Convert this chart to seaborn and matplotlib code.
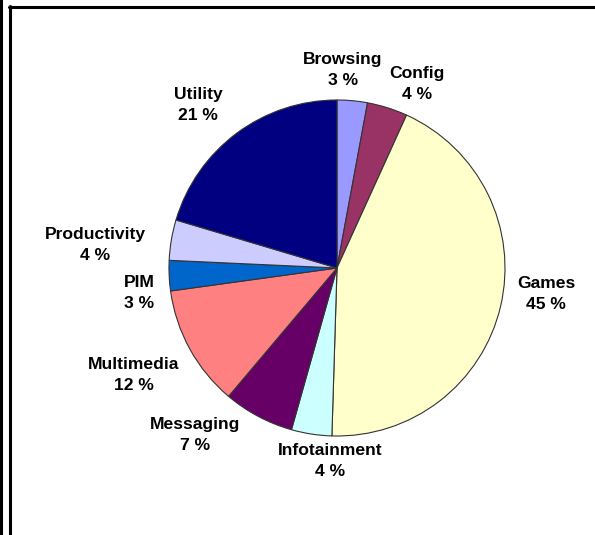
import matplotlib
matplotlib.use("Agg")
import matplotlib.pyplot as plt
from matplotlib.lines import Line2D
import seaborn as sns

# Application categories and their share of the total (percent)
categories = ["Browsing", "Config", "Games", "Infotainment", "Messaging",
              "Multimedia", "PIM", "Productivity", "Utility"]
shares = [3, 4, 45, 4, 7, 12, 3, 4, 21]
colors = ["#9999FF", "#993366", "#FFFFCC", "#CCFFFF", "#660066",
          "#FF8080", "#0066CC", "#CCCCFF", "#000080"]

# Label block centres in pixel space (origin top-left)
label_pos = [(343, 70), (417, 84), (546, 294), (330, 461), (195, 435),
             (134, 375), (139, 293), (95, 245), (198, 105)]

W, H = 595, 535
sns.set_theme(style="white")
plt.rcParams["font.family"] = ["Liberation Sans", "DejaVu Sans"]

fig = plt.figure(figsize=(W / 100, H / 100), dpi=100)
fig.patch.set_facecolor("white")
ax = fig.add_axes([0, 0, 1, 1])

cx, cy, r = 337, H - 268, 168
ax.pie(shares, colors=colors, startangle=90, counterclock=False,
       center=(cx, cy), radius=r, frame=True,
       wedgeprops=dict(edgecolor="#333333", linewidth=0.8))
ax.set_xlim(0, W)
ax.set_ylim(0, H)
ax.set_aspect("equal")
ax.axis("off")

for name, val, (lx, ly) in zip(categories, shares, label_pos):
    ax.text(lx, H - ly, f"{name}\n{val} %", ha="center", va="center",
            fontsize=12.6, fontweight="bold", color="black", linespacing=1.45)

# Page frame lines
lw = 2.2
fig.add_artist(Line2D([1.2 / W, 1.2 / W], [0, 1], transform=fig.transFigure,
                      color="black", linewidth=lw))
fig.add_artist(Line2D([10 / W, 10 / W], [0, 1 - 6 / H], transform=fig.transFigure,
                      color="black", linewidth=lw))
fig.add_artist(Line2D([9 / W, 1], [1 - 7 / H, 1 - 7 / H], transform=fig.transFigure,
                      color="black", linewidth=lw))

fig.savefig("out.png", dpi=100, facecolor="white")
